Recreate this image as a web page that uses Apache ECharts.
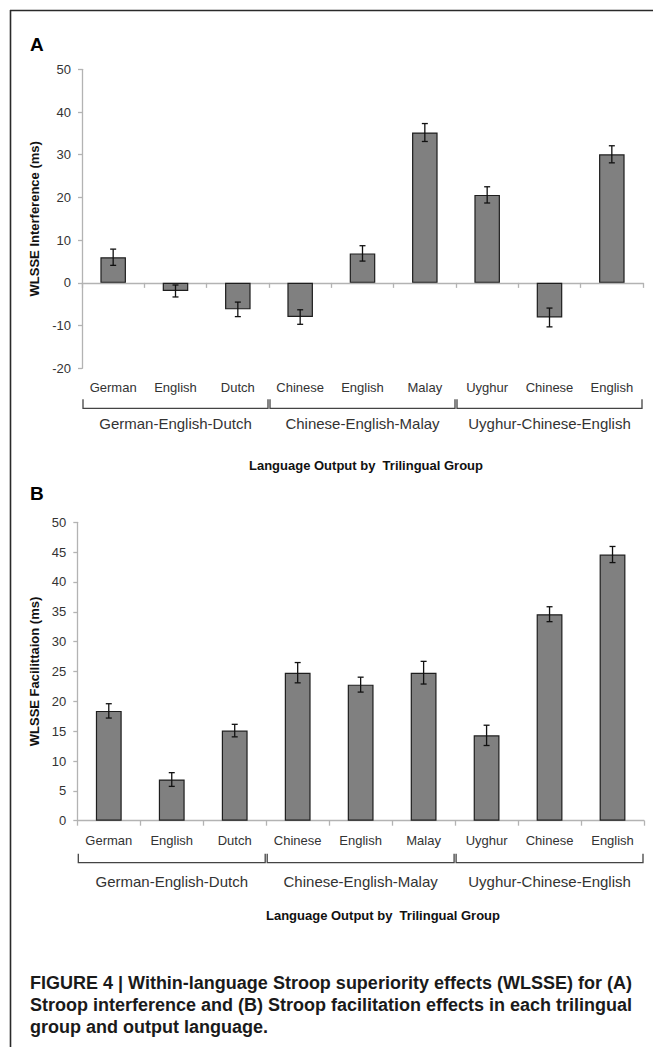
<!DOCTYPE html>
<html>
<head>
<meta charset="utf-8">
<script src="https://cdn.jsdelivr.net/npm/echarts@6/dist/echarts.min.js"></script>
<style>
html,body{margin:0;padding:0;background:#fff;}
#chart{width:653px;height:1047px;}
</style>
</head>
<body>
<div id="chart"></div>
<script>
// ---- data ----
const categories = ['German','English','Dutch','Chinese','English','Malay','Uyghur','Chinese','English'];
const groupNames = ['German-English-Dutch','Chinese-English-Malay','Uyghur-Chinese-English'];
const groupStart = [0, 3, 6];
const groupEnd = [2, 5, 8];
const interferenceMean = [6.0, -1.9, -6.2, -8.0, 6.9, 35.2, 20.6, -8.1, 30.1];
const interferenceErr  = [1.9, 1.4, 1.7, 1.7, 1.8, 2.1, 1.9, 2.2, 2.0];
const facilitationMean = [18.4, 6.9, 15.1, 24.8, 22.8, 24.8, 14.3, 34.6, 44.6];
const facilitationErr  = [1.2, 1.15, 1.05, 1.7, 1.25, 1.9, 1.7, 1.25, 1.35];
const yTicksA = [-20, -10, 0, 10, 20, 30, 40, 50];
const yTicksB = [0, 5, 10, 15, 20, 25, 30, 35, 40, 45, 50];
const yTitleA = 'WLSSE Interference (ms)';
const yTitleB = 'WLSSE Facilittaion (ms)';
const xTitle = 'Language Output by  Trilingual Group';
const captionLines = [
  'FIGURE 4 | Within-language Stroop superiority effects (WLSSE) for (A)',
  'Stroop interference and (B) Stroop facilitation effects in each trilingual',
  'group and output language.'
];

// ---- styling ----
const FONT = '"Liberation Sans", Arial, Helvetica, sans-serif';
const AXIS_GRAY = '#b3b3b3';
const TEXT_COL = '#333333';
const panels = [
  {grid:{left:82, top:69.3, width:561, height:299}, ticks:yTicksA, mean:interferenceMean, err:interferenceErr,
   yTitle:yTitleA, nameGap:39, bTop:31, bBot:40, gLab:55, labMargin:13, yLabMargin:11},
  {grid:{left:77.3, top:522.3, width:566.7, height:298.4}, ticks:yTicksB, mean:facilitationMean, err:facilitationErr,
   yTitle:yTitleB, nameGap:34, bTop:33, bBot:42, gLab:61, labMargin:13.5, yLabMargin:11}
];

const chart = echarts.init(document.getElementById('chart'), null, {renderer:'svg', width:653, height:1047});

const grids = [], xAxes = [], yAxes = [], series = [];
panels.forEach((p, k) => {
  grids.push(Object.assign({outerBoundsMode:'none', containLabel:false}, p.grid));
  const tmin = p.ticks[0], tmax = p.ticks[p.ticks.length-1], step = p.ticks[1]-p.ticks[0];
  xAxes.push({
    type:'category', gridIndex:k, data:categories, position:'bottom',
    axisLine:{show:true, onZero:true, lineStyle:{color:AXIS_GRAY, width:1.3}},
    axisTick:{show:true, interval:0, alignWithLabel:false, length:5, lineStyle:{color:AXIS_GRAY, width:1.3}},
    axisLabel:{show:false}, splitLine:{show:false}
  });
  xAxes.push({
    type:'category', gridIndex:k, data:categories, position:'bottom',
    axisLine:{show:false, onZero:false}, axisTick:{show:false},
    axisLabel:{show:true, interval:0, margin:p.labMargin, color:TEXT_COL, fontSize:13, fontFamily:FONT},
    splitLine:{show:false}
  });
  yAxes.push({
    type:'value', gridIndex:k, min:tmin, max:tmax, interval:step,
    name:p.yTitle, nameLocation:'middle', nameGap:p.nameGap, nameRotate:90,
    nameTextStyle:{color:'#111', fontSize:13, fontWeight:'bold', fontFamily:FONT},
    axisLine:{show:true, lineStyle:{color:AXIS_GRAY, width:1.3}},
    axisTick:{show:true, length:4, lineStyle:{color:AXIS_GRAY, width:1.3}},
    axisLabel:{color:TEXT_COL, fontSize:13, fontFamily:FONT, margin:p.yLabMargin},
    splitLine:{show:false}
  });
  series.push({
    type:'bar', xAxisIndex:2*k, yAxisIndex:k, data:p.mean, barWidth:'41%',
    itemStyle:{color:'#808080', borderColor:'#1e1e1e', borderWidth:1.2},
    z:2, silent:true
  });
  series.push({
    type:'custom', xAxisIndex:2*k, yAxisIndex:k, z:4, silent:true, clip:false,
    data:p.mean.map((m, i) => [i, m, p.err[i]]),
    encode:{x:0, y:1},
    renderItem:function(params, api){
      const i = api.value(0), m = api.value(1), e = api.value(2);
      const hi = api.coord([i, m+e]), lo = api.coord([i, m-e]);
      const x = hi[0], cw = 3;
      const st = {stroke:'#111', lineWidth:1.3};
      return {type:'group', children:[
        {type:'line', shape:{x1:x, y1:hi[1], x2:x, y2:lo[1]}, style:st},
        {type:'line', shape:{x1:x-cw, y1:hi[1], x2:x+cw, y2:hi[1]}, style:st},
        {type:'line', shape:{x1:x-cw, y1:lo[1], x2:x+cw, y2:lo[1]}, style:st}
      ]};
    }
  });
  series.push({
    type:'custom', xAxisIndex:2*k, yAxisIndex:k, z:4, silent:true, clip:false,
    data:groupStart.map((s, g) => [s, tmin, groupEnd[g]]),
    encode:{x:0, y:1},
    renderItem:function(params, api){
      const g = params.dataIndex;
      const bw = api.size([1, 0])[0];
      const p0 = api.coord([api.value(0), api.value(1)]);
      const p1 = api.coord([api.value(2), api.value(1)]);
      const x0 = p0[0] - bw/2 + 1, x1 = p1[0] + bw/2 - 1;
      const yb = p0[1];
      return {type:'group', children:[
        {type:'polyline', shape:{points:[[x0, yb+p.bTop],[x0, yb+p.bBot],[x1, yb+p.bBot],[x1, yb+p.bTop]]},
         style:{stroke:'#444', lineWidth:1.3, fill:null}},
        {type:'text', style:{text:groupNames[g], x:(x0+x1)/2, y:yb+p.gLab, align:'center', verticalAlign:'middle',
         fill:TEXT_COL, fontSize:15, fontFamily:FONT}}
      ]};
    }
  });
});

// caption: bold condensed look via horizontal scaling of a bold sans font
const CAP_FONT_SIZE = 18;
const capFontCss = 'bold ' + CAP_FONT_SIZE + 'px "Liberation Sans", Arial, sans-serif';
const ctx = document.createElement('canvas').getContext('2d');
ctx.font = capFontCss;
const capScale = Math.min(1, 611 / ctx.measureText(captionLines[0]).width);

const graphic = [
  {type:'line', shape:{x1:10, y1:10.5, x2:653, y2:10.5}, style:{stroke:'#2a2a2a', lineWidth:1.6}},
  {type:'line', shape:{x1:10.5, y1:10, x2:10.5, y2:1047}, style:{stroke:'#2a2a2a', lineWidth:1.6}},
  {type:'text', left:30, top:35, style:{text:'A', fill:'#000', fontSize:19, fontWeight:'bold', fontFamily:FONT}},
  {type:'text', left:30, top:484, style:{text:'B', fill:'#000', fontSize:19, fontWeight:'bold', fontFamily:FONT}},
  {type:'text', x:366, y:465, style:{text:xTitle, align:'center', verticalAlign:'middle', fill:'#111', fontSize:13, fontWeight:'bold', fontFamily:FONT}},
  {type:'text', x:383, y:915, style:{text:xTitle, align:'center', verticalAlign:'middle', fill:'#111', fontSize:13, fontWeight:'bold', fontFamily:FONT}}
];
captionLines.forEach((t, i) => {
  graphic.push({type:'text', x:30, y:983 + i*22, scaleX:capScale, originX:0,
    style:{text:t, align:'left', verticalAlign:'middle', fill:'#1a1a1a',
    fontSize:CAP_FONT_SIZE, fontWeight:'bold', fontFamily:'"Liberation Sans", Arial, sans-serif'}});
});

chart.setOption({
  animation:false,
  backgroundColor:'#ffffff',
  grid:grids, xAxis:xAxes, yAxis:yAxes, series:series, graphic:graphic
});
</script>
</body>
</html>
